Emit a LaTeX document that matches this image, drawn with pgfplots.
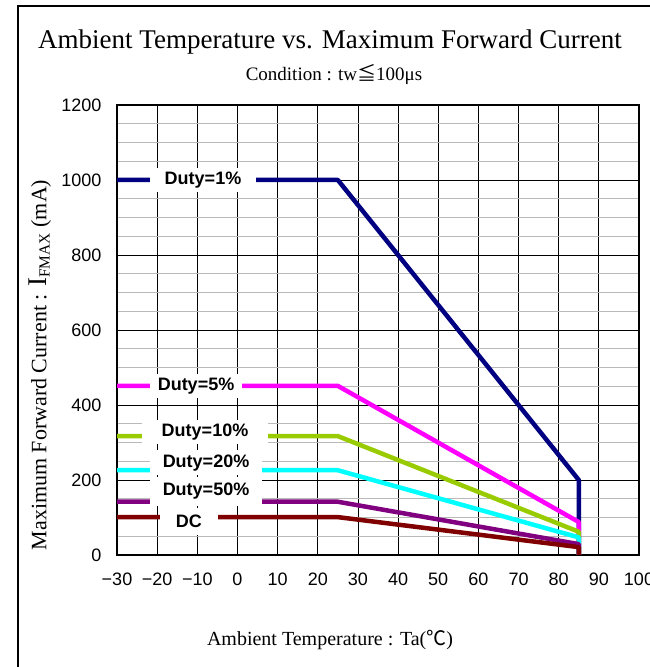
\documentclass[border=0pt]{standalone}
\usepackage{fontspec}
\setmainfont{Liberation Serif}
\setsansfont{Liberation Sans}
\newfontfamily\cjk{Noto Sans CJK JP}
\usepackage{pgfplots}
\pgfplotsset{compat=1.18}
\definecolor{c1}{RGB}{0,0,128}
\definecolor{c5}{RGB}{255,0,255}
\definecolor{c10}{RGB}{153,204,0}
\definecolor{c20}{RGB}{0,255,255}
\definecolor{c50}{RGB}{128,0,128}
\definecolor{cdc}{RGB}{128,0,0}
\tikzset{labelbox/.style={fill=white, inner sep=0pt, font=\sffamily\bfseries\fontsize{18}{20}\selectfont, anchor=center}}
\begin{document}
\begin{tikzpicture}[x=1pt,y=1pt]
\useasboundingbox (0,0) rectangle (650,667);
\draw[line width=1.8pt] (18,-10) -- (18,661) -- (662,661);
\node[font=\fontsize{27}{30}\selectfont] at (330,625) {Ambient Temperature vs. Maximum Forward Current};
\node[font=\fontsize{19}{22}\selectfont] at (334,592) {Condition : tw{\cjk ≦}100μs};
\node[font=\fontsize{20}{22}\selectfont] at (330,27) {Ambient Temperature : Ta({\cjk ℃})};
\node[font=\fontsize{22}{24}\selectfont, rotate=90] at (40,302) {Maximum Forward Current : {\fontsize{27}{28}\selectfont I}\textsubscript{FMAX} (mA)};
\begin{axis}[at={(117pt,112pt)}, anchor=south west, width=522pt, height=450pt, scale only axis,
  xmin=-30, xmax=100, ymin=0, ymax=1200,
  xtick={-30,-20,...,100},
  xticklabels={−30,−20,−10,0,10,20,30,40,50,60,70,80,90,100},
  ytick={0,200,...,1200}, minor y tick num=3,
  grid=both,
  major grid style={black, line width=0.8pt},
  minor grid style={gray!55, line width=0.8pt},
  tick style={draw=none},
  axis line style={line width=1.3pt},
  ticklabel style={font=\sffamily\fontsize{18}{20}\selectfont},
  /pgf/number format/assume math mode=true,
  /pgf/number format/1000 sep={},
  xticklabel style={yshift=-14pt},
  yticklabel style={xshift=-12pt},
  every axis plot/.append style={line width=4.5pt, line join=round},
]
\addplot[c1] coordinates {(-30,1000) (25,1000) (85,200) (85,0)};
\addplot[c5] coordinates {(-30,451) (25,451) (85,88) (85,0)};
\addplot[c10] coordinates {(-30,317) (25,317) (85,62) (85,0)};
\addplot[c20] coordinates {(-30,226) (25,226) (85,47) (85,0)};
\addplot[c50] coordinates {(-30,142) (25,142) (85,29) (85,0)};
\addplot[cdc] coordinates {(-30,101) (25,101) (85,21) (85,-4)};
\node[labelbox, minimum width=106pt, minimum height=24pt] at (axis cs:-8.58,1000) {Duty=1\%};
\node[labelbox, minimum width=92pt, minimum height=24pt] at (axis cs:-10.32,450) {Duty=5\%};
\node[labelbox, minimum width=126pt, minimum height=24pt] at (axis cs:-8.08,327.5) {Duty=10\%};
\node[labelbox, minimum width=112pt, minimum height=25pt] at (axis cs:-7.83,245.6) {Duty=20\%};
\node[labelbox, minimum width=112pt, minimum height=29pt] at (axis cs:-7.83,170.5) {Duty=50\%};
\node[labelbox, minimum width=58pt, minimum height=27pt] at (axis cs:-12.07,90) {DC};
\end{axis}
\end{tikzpicture}
\end{document}
